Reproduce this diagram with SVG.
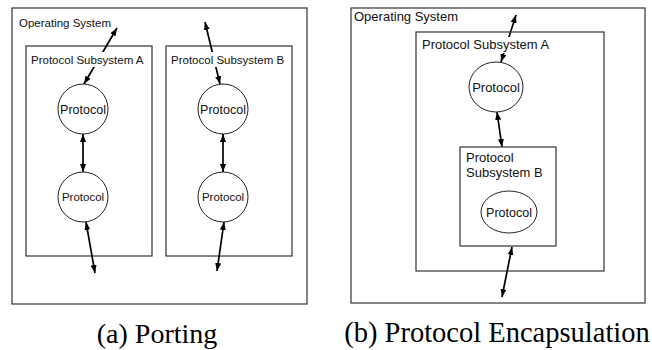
<svg xmlns="http://www.w3.org/2000/svg" width="652" height="350" viewBox="0 0 652 350">
<style>
.box{fill:none;stroke:#333;stroke-width:1.2}
.node{fill:#fff;stroke:#222;stroke-width:1}
.lbl{font-family:"Liberation Sans",Arial,sans-serif;fill:#111}
.cap{font-family:"Liberation Serif","Times New Roman",serif;fill:#000;text-anchor:middle}
.conn{stroke:#000;stroke-width:1.7;fill:none;marker-start:url(#ah);marker-end:url(#ah)}
.bg{fill:#fff}
</style>
<defs>
<marker id="ah" viewBox="0 0 8 6" refX="8" refY="3" markerWidth="8" markerHeight="6" markerUnits="userSpaceOnUse" orient="auto-start-reverse">
<path d="M0,0 L8,3 L0,6 Z" fill="#000"/>
</marker>
</defs>
<rect width="652" height="350" fill="#fff"/>

<!-- Panel (a) -->
<g id="os-a">
<rect class="box" x="12" y="8" width="295" height="296"/>
<text class="lbl" x="19" y="27" font-size="11.5">Operating System</text>
</g>
<g id="subA-a">
<rect class="box" x="26" y="46" width="126" height="210"/>
</g>
<g id="subB-a">
<rect class="box" x="166" y="46" width="126" height="210"/>
</g>

<g id="connectors">
<line class="conn" x1="84" y1="84" x2="117" y2="28"/>
<line class="conn" x1="83" y1="134" x2="83" y2="172"/>
<line class="conn" x1="86" y1="222" x2="95" y2="273"/>
<line class="conn" x1="205" y1="22" x2="220" y2="84"/>
<line class="conn" x1="223" y1="134" x2="223" y2="172"/>
<line class="conn" x1="224" y1="222" x2="217" y2="271"/>
<line class="conn" x1="501" y1="62" x2="516" y2="15"/>
<line class="conn" x1="497" y1="112" x2="502" y2="147"/>
<line class="conn" x1="512" y1="247" x2="502" y2="297"/>
</g>

<g id="subA-a-label">
<rect class="bg" x="29" y="52" width="118" height="15"/>
<text class="lbl" x="31" y="64" font-size="11.5">Protocol Subsystem A</text>
</g>
<g id="subB-a-label">
<rect class="bg" x="169" y="52" width="118" height="15"/>
<text class="lbl" x="171" y="64" font-size="11.5">Protocol Subsystem B</text>
</g>
<g id="protoA1">
<circle class="node" cx="83" cy="109" r="25"/>
<text class="lbl" x="83" y="113.5" font-size="12.5" text-anchor="middle">Protocol</text>
</g>
<g id="protoA2">
<circle class="node" cx="83" cy="197" r="25"/>
<text class="lbl" x="83" y="201" font-size="11.5" text-anchor="middle">Protocol</text>
</g>
<g id="protoB1">
<circle class="node" cx="223" cy="109" r="25"/>
<text class="lbl" x="223" y="113.5" font-size="12.5" text-anchor="middle">Protocol</text>
</g>
<g id="protoB2">
<circle class="node" cx="223" cy="197" r="25"/>
<text class="lbl" x="223" y="201" font-size="11.5" text-anchor="middle">Protocol</text>
</g>
<text class="cap" x="157" y="343" font-size="28">(a) Porting</text>

<!-- Panel (b) -->
<g id="os-b">
<rect class="box" x="351" y="8" width="294" height="295"/>
<text class="lbl" x="354" y="21" font-size="13">Operating System</text>
</g>
<g id="subA-b">
<rect class="box" x="416" y="32" width="188" height="239"/>
<rect class="bg" x="420" y="37" width="130" height="16"/>
<text class="lbl" x="422" y="49" font-size="13">Protocol Subsystem A</text>
</g>
<g id="protoA-b">
<ellipse class="node" cx="496" cy="87" rx="27" ry="25"/>
<text class="lbl" x="496" y="91.5" font-size="13" text-anchor="middle">Protocol</text>
</g>
<g id="subB-b">
<rect class="box" x="460" y="147" width="96" height="99"/>
<text class="lbl" x="466" y="162" font-size="13">Protocol</text>
<text class="lbl" x="466" y="177" font-size="13">Subsystem B</text>
</g>
<g id="protoB-b">
<ellipse class="node" cx="509" cy="212" rx="28" ry="21"/>
<text class="lbl" x="509" y="216.5" font-size="12.5" text-anchor="middle">Protocol</text>
</g>
<text class="cap" x="497" y="342" font-size="28.5">(b) Protocol Encapsulation</text>
</svg>
